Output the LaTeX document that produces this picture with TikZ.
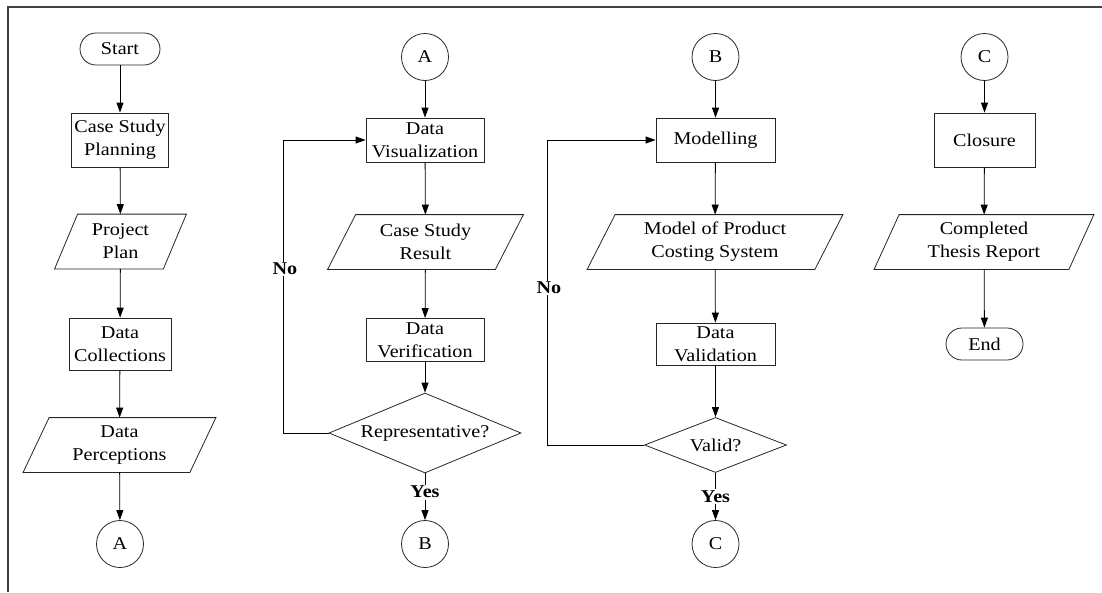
\documentclass[tikz,border=0pt]{standalone}
\usepackage{fontspec}
\setmainfont{Liberation Serif}[FakeStretch=1.12]
\usetikzlibrary{arrows.meta,shapes.geometric}

\tikzset{
  base/.style={draw=black!85, line width=0.8pt, inner sep=0pt, align=center,
    font=\fontsize{18}{23}\selectfont},
  proc/.style={base, rectangle},
  io/.style={base, draw=none, rectangle, minimum height=54pt},
  term/.style={base, rectangle, rounded corners=16pt, minimum height=32pt},
  conn/.style={base, circle, minimum size=47pt},
  dec/.style={base, diamond},
  flow/.style={line width=0.8pt, -{Triangle[length=10pt,width=7pt]}},
  lbl/.style={font=\bfseries\fontsize{18}{23}\selectfont, fill=white, inner sep=1.5pt},
  frame/.style={line width=1.6pt, draw=black!75},
}

% outline of a data (parallelogram) node: #1 node name, #2 half slant in pt
\newcommand\ioshape[2]{%
  \draw[line width=0.8pt, draw=black!85]
    ([xshift=#2pt]#1.north west) -- ([xshift=#2pt]#1.north east)
    -- ([xshift=-#2pt]#1.south east) -- ([xshift=-#2pt]#1.south west) -- cycle;}

\begin{document}
\begin{tikzpicture}[x=1pt,y=-1pt]
\useasboundingbox (0,0) rectangle (1102,592);
\draw[frame] (8,592) -- (8,7) -- (1102,7);

% ---- column 1
\node[term, minimum width=80pt] (start) at (120,49) {Start};
\node[proc, minimum width=97pt, minimum height=54pt] (csp) at (120,140) {Case Study\\Planning};
\node[io, minimum width=108pt] (pp) at (120.5,241.5) {Project\\Plan};
\ioshape{pp}{11.5}
\node[proc, minimum width=102pt, minimum height=52pt] (dc) at (120,344) {Data\\Collections};
\node[io, minimum width=166pt] (dp) at (119.5,445) {Data\\Perceptions};
\ioshape{dp}{13}
\node[conn] (a1) at (120,544) {A};

\draw[flow] (start) -- (csp);
\draw[flow] (csp) -- (pp);
\draw[flow] (pp) -- (dc);
\draw[flow] (dc) -- (dp);
\draw[flow] (dp) -- (a1);

% ---- column 2
\node[conn] (a2) at (425,57) {A};
\node[proc, minimum width=118pt, minimum height=44pt] (dv) at (425,140) {Data\\Visualization};
\node[io, minimum width=167pt] (csr) at (425.5,242) {Case Study\\Result};
\ioshape{csr}{14}
\node[proc, minimum width=118pt, minimum height=43pt] (dver) at (425,340) {Data\\Verification};
\node[dec, shape aspect=2.4, minimum width=192pt, minimum height=80pt] (rep) at (425,433) {Representative?};
\node[conn] (b1) at (425,544) {B};

\draw[flow] (a2) -- (dv);
\draw[flow] (dv) -- (csr);
\draw[flow] (csr) -- (dver);
\draw[flow] (dver) -- (rep);
\draw[flow] (rep.south) -- node[lbl, pos=0.4] (yes1) {Yes} (b1.north);
\draw[flow] (rep.west) -- ++(-45,0) |- (dv.west);
\node[lbl] (no1) at (285,269) {No};

% ---- column 3
\node[conn] (b2) at (715.5,57) {B};
\node[proc, minimum width=119pt, minimum height=44pt] (mod) at (715.5,140) {Modelling};
\node[io, minimum width=227pt] (mpc) at (715,242) {Model of Product\\Costing System};
\ioshape{mpc}{14}
\node[proc, minimum width=119pt, minimum height=42pt] (dval) at (715.5,344) {Data\\Validation};
\node[dec, shape aspect=2.58, minimum width=142pt, minimum height=55pt] (valid) at (715.5,445) {Valid?};
\node[conn] (c1) at (715.5,544) {C};

\draw[flow] (b2) -- (mod);
\draw[flow] (mod) -- (mpc);
\draw[flow] (mpc) -- (dval);
\draw[flow] (dval) -- (valid);
\draw[flow] (valid.south) -- node[lbl, pos=0.5] (yes2) {Yes} (c1.north);
\draw[flow] (valid.west) -- ++(-96.5,0) |- (mod.west);
\node[lbl] (no2) at (549,288) {No};

% ---- column 4
\node[conn] (c2) at (984.5,57) {C};
\node[proc, minimum width=101pt, minimum height=54pt] (clo) at (984.5,140) {Closure};
\node[io, minimum width=194pt] (ctr) at (984,242) {Completed\\Thesis Report};
\ioshape{ctr}{12.5}
\node[term, minimum width=77pt] (end) at (984.5,344) {End};

\draw[flow] (c2) -- (clo);
\draw[flow] (clo) -- (ctr);
\draw[flow] (ctr) -- (end);
\end{tikzpicture}
\end{document}
